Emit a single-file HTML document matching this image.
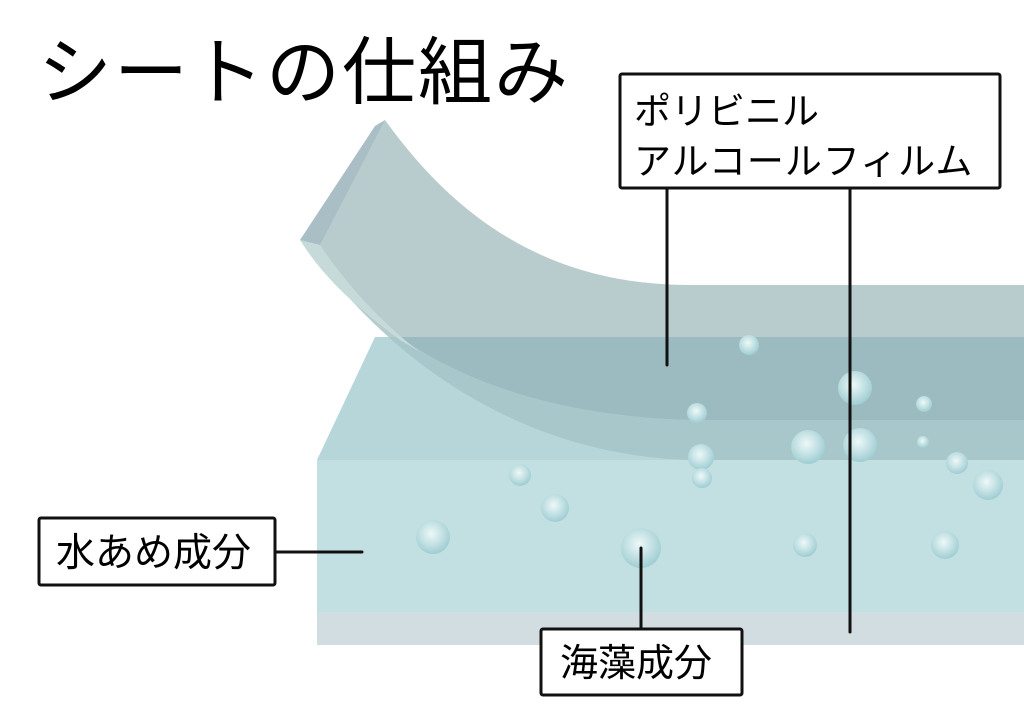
<!DOCTYPE html>
<html><head><meta charset="utf-8"><style>
html,body{margin:0;padding:0;background:#fff;}
svg{display:block;}
text{font-family:"Liberation Sans","Noto Sans CJK JP",sans-serif;fill:#000;}
</style></head><body>
<svg width="1024" height="722" viewBox="0 0 1024 722" xmlns="http://www.w3.org/2000/svg">
<defs>
<radialGradient id="b" cx="0.45" cy="0.4" r="0.6">
<stop offset="0" stop-color="#eef8f8"/>
<stop offset="0.6" stop-color="#bfdfe2"/>
<stop offset="1" stop-color="#9fcdd3"/>
</radialGradient>
<clipPath id="top"><polygon points="375,337 1024,337 1024,460 317,460"/></clipPath>
</defs>
<polygon points="375,337 1024,337 1024,460 317,460" fill="#b6d6da"/>
<rect x="317" y="460" width="707" height="152" fill="#c2e0e1"/>
<rect x="317" y="612" width="707" height="33" fill="#d2dde1"/>
<path d="M385,120 C450,210 540,285 690,285 L1024,285 L1024,460 L690,460 C520,455 390,360 310,250 L300,240 Z" fill="#b8cccd"/>
<g clip-path="url(#top)">
<path d="M385,120 C450,210 540,285 690,285 L1024,285 L1024,420 L690,420 C520,415 390,360 310,250 L300,240 Z" fill="#9bbbc0"/>
<path d="M310,250 C390,360 520,415 690,420 L1024,420 L1024,460 L690,460 C520,455 390,360 310,250 Z" fill="#a7c7cb"/>
</g>
<path d="M300,240 L320,245 L385,120 L375,126 Z" fill="#a9bfc5"/>
<path d="M300,240 L320,245 C350,290 390,330 420,352 L400,340 C360,310 325,280 300,240 Z" fill="#c6dada"/>
<g fill="url(#b)">
<circle cx="749" cy="345" r="10"/><circle cx="855" cy="388" r="17"/><circle cx="697" cy="413" r="10"/>
<circle cx="924" cy="404" r="8"/><circle cx="808" cy="447" r="17"/><circle cx="860" cy="445" r="17"/>
<circle cx="923" cy="442" r="6"/><circle cx="701" cy="457" r="13"/><circle cx="957" cy="463" r="11"/>
<circle cx="702" cy="478" r="10"/><circle cx="520" cy="475" r="11"/><circle cx="988" cy="485" r="15"/>
<circle cx="555" cy="508" r="14"/><circle cx="433" cy="537" r="17"/><circle cx="641" cy="548" r="20"/>
<circle cx="805" cy="545" r="12"/><circle cx="945" cy="545" r="14"/>
</g>
<g stroke="#111" stroke-width="3" stroke-linecap="round">
<line x1="275" y1="552" x2="362" y2="552"/>
<line x1="667" y1="188" x2="667" y2="365"/>
<line x1="850" y1="188" x2="850" y2="632"/>
<line x1="641" y1="548" x2="641" y2="630"/>
</g>
<g fill="#fff" stroke="#111" stroke-width="3">
<rect x="620" y="74" width="380" height="114" rx="2"/>
<rect x="39" y="518" width="236" height="67" rx="2"/>
<rect x="541" y="629" width="201" height="66" rx="2"/>
</g>
<text x="38" y="98" font-size="74" letter-spacing="2">シートの仕組み</text>
<text x="634" y="124" font-size="37">ポリビニル</text>
<text x="634" y="174" font-size="37" letter-spacing="1">アルコールフィルム</text>
<text x="56" y="566" font-size="39">水あめ成分</text>
<text x="560" y="676" font-size="38">海藻成分</text>
</svg>
</body></html>
